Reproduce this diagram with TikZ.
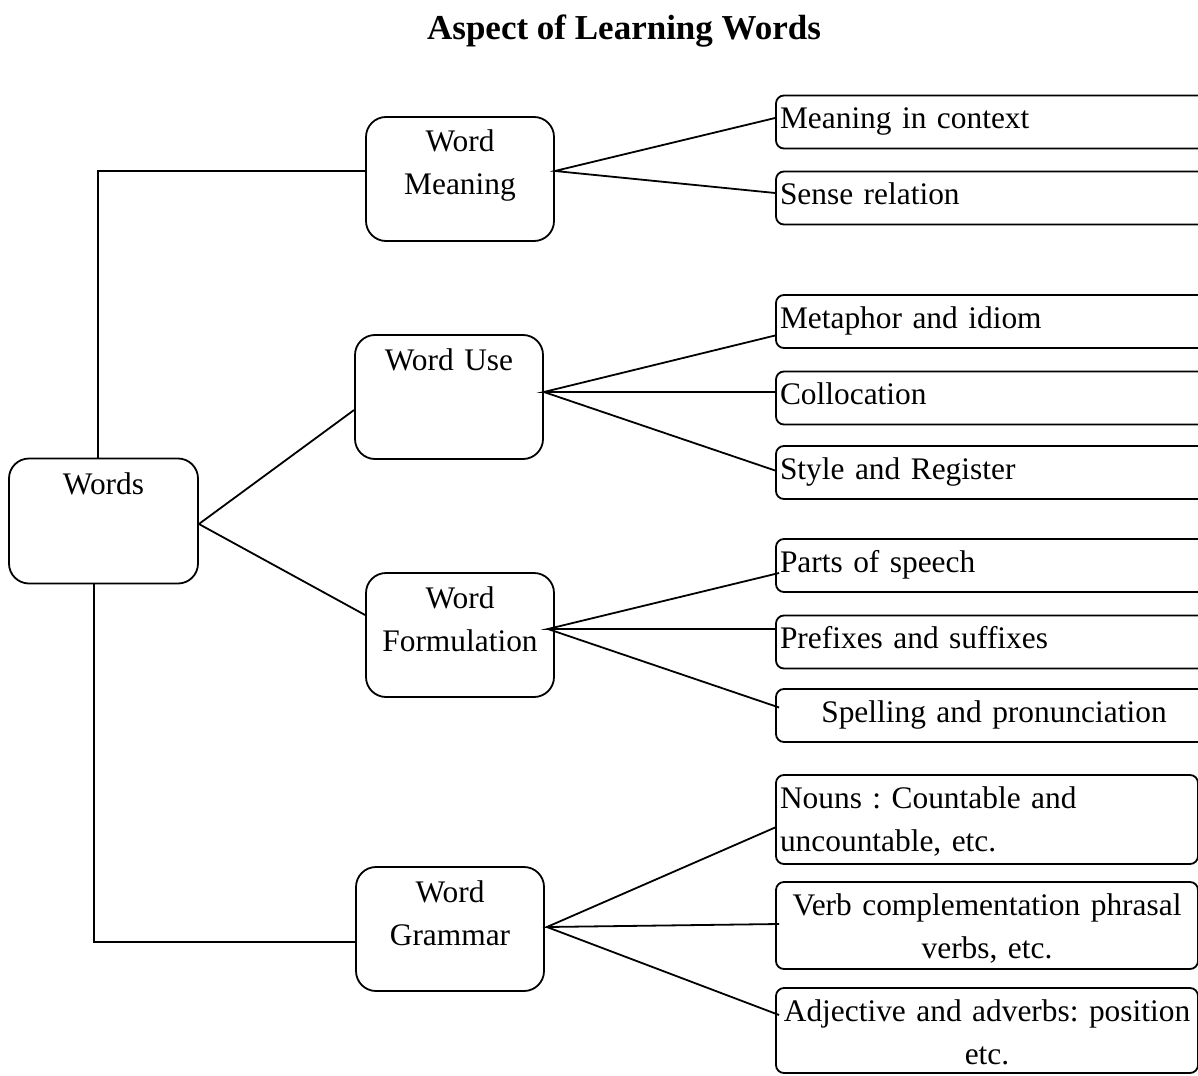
\documentclass[tikz,border=0pt]{standalone}
\usepackage{fontspec}
\setmainfont{Liberation Serif}
\usetikzlibrary{positioning}
\frenchspacing

\tikzset{
	topic/.style={draw, rounded corners=10pt, line width=0.9pt, text width=84pt, inner xsep=5pt, inner ysep=0pt, align=center, text height=17.5pt, text depth=44.5pt, font=\fontsize{15.7}{21.5}\selectfont},
	leaf/.style={draw, rounded corners=4pt, line width=0.9pt, inner xsep=2pt, inner ysep=0pt, text height=16.5pt, text depth=10pt, font=\fontsize{15.7}{21.5}\selectfont},
	longleaf/.style={leaf, text width=214pt, align=left},
	shortleaf/.style={leaf, inner xsep=0pt, text width=211pt, align=center, text depth=27.5pt}
}

\begin{document}
\begin{tikzpicture}[x=0.5pt,y=-0.5pt,line width=0.9pt]
		\clip (0,0) rectangle (1198,1075);
		\node[anchor=base, font=\bfseries\fontsize{17.5}{21}\selectfont] (title) at (624,40) {Aspect of Learning Words};
		\node[topic, text width=84.5pt, text height=18pt] (words) at (103.5,521) {Words};
		\node[topic] (meaning) at (460,179) {Word\\Meaning};
		\node[topic] (use) at (449,397) {Word Use};
		\node[topic] (form) at (460,635) {Word\\Formulation};
		\node[topic] (gram) at (450,929) {Word\\Grammar};
		\node[longleaf] (ctx) at (994,122) {Meaning in context};
		\node[longleaf] (sense) at (994,198) {Sense relation};
		\node[longleaf] (meta) at (994,321.5) {Metaphor and idiom};
		\node[longleaf] (coll) at (994,398) {Collocation};
		\node[longleaf] (style) at (994,472.5) {Style and Register};
		\node[longleaf] (parts) at (994,565.5) {Parts of speech};
		\node[longleaf] (prefix) at (994,642) {Prefixes and suffixes};
		\node[longleaf, align=center] (spell) at (994,715.5) {Spelling and pronunciation\hspace*{6pt}};
		\node[shortleaf, align=left, inner xsep=2pt, text width=207pt, text depth=28pt] (nouns) at (987,819.5) {Nouns : Countable and\\uncountable, etc.};
		\node[shortleaf, text depth=27pt] (verb) at (987,925.5) {Verb complementation phrasal\\verbs, etc.};
		\node[shortleaf, text depth=26pt] (adj) at (987,1030.5) {Adjective and adverbs: position\\etc.};
		\draw ([xshift=-2.75pt]words.north) |- ([yshift=4pt]meaning.west);
		\draw ([xshift=-4.75pt]words.south) |- ([yshift=-6.5pt]gram.west);
		\draw ([yshift=-6.5pt]use.west) -- ([yshift=-1.5pt]words.east) -- ([yshift=10pt]form.west);
		\draw ([yshift=2pt]ctx.west) -- ([yshift=4pt]meaning.east) -- ([yshift=2.5pt]sense.west);
		\draw ([yshift=-7pt]meta.west) -- ([yshift=2.5pt]use.east) -- ([yshift=3pt]coll.west);
		\draw ([yshift=2.5pt]use.east) -- ([yshift=1pt]style.west);
		\draw ([xshift=2pt,yshift=-3.75pt]parts.west) -- ([xshift=-3.5pt,yshift=3pt]form.east) -- ([yshift=6.5pt]prefix.west);
		\draw ([xshift=-3.5pt,yshift=3pt]form.east) -- ([xshift=2pt,yshift=4pt]spell.west);
		\draw ([yshift=-4pt]nouns.west) -- ([xshift=1pt,yshift=1pt]gram.east) -- ([xshift=2pt,yshift=0.75pt]verb.west);
		\draw ([xshift=1pt,yshift=1pt]gram.east) -- ([xshift=2pt,yshift=7.75pt]adj.west);
	\end{tikzpicture}
\end{document}
